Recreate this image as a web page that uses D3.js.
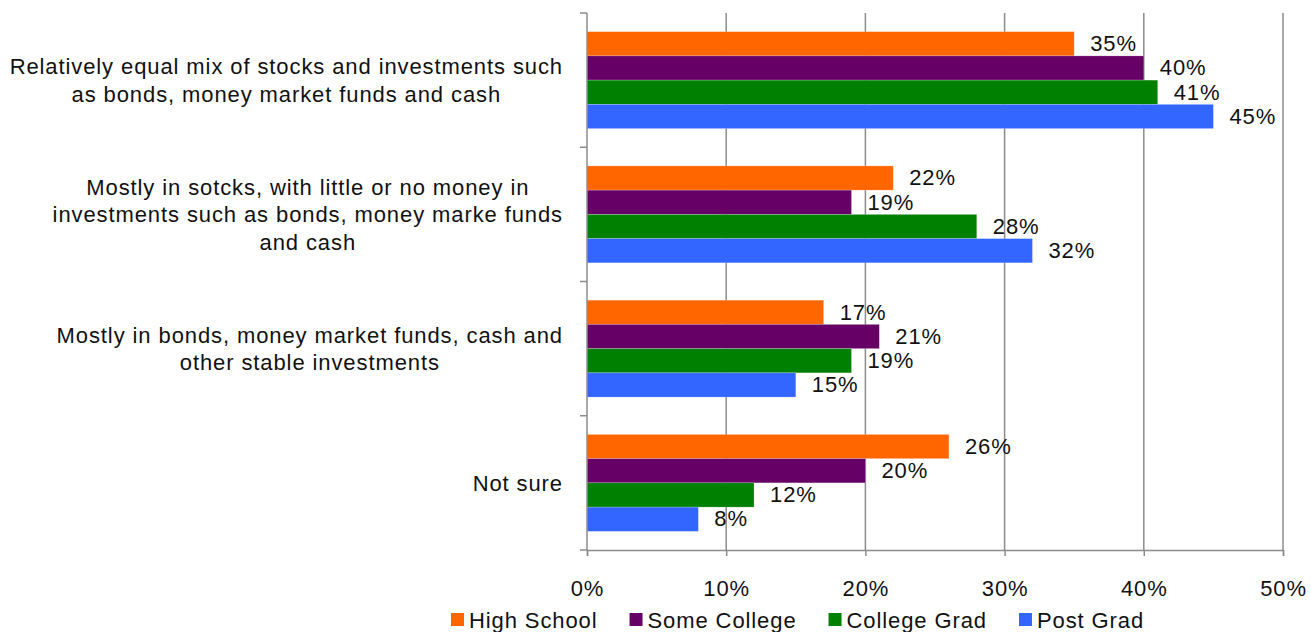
<!DOCTYPE html>
<html>
<head>
<meta charset="utf-8">
<script src="https://cdn.jsdelivr.net/npm/d3@7"></script>
<style>
  html, body { margin: 0; padding: 0; background: #fff; }
  svg { display: block; font-family: "Liberation Sans", Arial, sans-serif; letter-spacing: 0.9px; }
</style>
</head>
<body>
<svg id="chart" width="1311" height="632"></svg>
<script>
// Investment mix by education level (percent of respondents)
const categories = [
  ["Relatively equal mix of stocks and investments such", "as bonds, money market funds and cash"],
  ["Mostly in sotcks, with little or no money in", "investments such as bonds, money marke funds", "and cash"],
  ["Mostly in bonds, money market funds, cash and", "other stable investments"],
  ["Not sure"]
];
const seriesNames = ["High School", "Some College", "College Grad", "Post Grad"];
const highSchool   = [35, 22, 17, 26];
const someCollege  = [40, 19, 21, 20];
const collegeGrad  = [41, 28, 19, 12];
const postGrad     = [45, 32, 15, 8];
const xTicks = [0, 10, 20, 30, 40, 50];

const seriesValues = [highSchool, someCollege, collegeGrad, postGrad];
const colors = ["#FF6600", "#660066", "#008000", "#3366FF"];

const svg = d3.select("#chart");
const plot = { left: 587, right: 1283, top: 13, bottom: 550 };
const fontSize = 22;
const axisColor = "#8c8c8c";

const x = d3.scaleLinear().domain([0, 50]).range([plot.left, plot.right]);
const y = d3.scaleBand().domain(d3.range(categories.length)).range([plot.top, plot.bottom]);
const inner = d3.scaleBand().domain(d3.range(seriesNames.length))
  .range([0, y.bandwidth()]).paddingOuter(0.77).paddingInner(0);

// vertical gridlines
svg.append("g").selectAll("line")
  .data(xTicks.slice(1))
  .join("line")
  .attr("x1", d => x(d)).attr("x2", d => x(d))
  .attr("y1", plot.top).attr("y2", plot.bottom)
  .attr("stroke", axisColor).attr("stroke-width", 1.5);

// bars
const groups = svg.append("g").selectAll("g")
  .data(categories.map((c, i) => i))
  .join("g")
  .attr("transform", i => `translate(0,${y(i)})`);

groups.selectAll("rect")
  .data(i => seriesValues.map((vals, s) => ({ s, v: vals[i] })))
  .join("rect")
  .attr("x", x(0))
  .attr("y", d => inner(d.s))
  .attr("width", d => x(d.v) - x(0))
  .attr("height", inner.bandwidth())
  .attr("fill", d => colors[d.s])
  .attr("stroke", "rgba(255,255,255,0.35)")
  .attr("stroke-width", 0.6);

// value labels
groups.selectAll("text")
  .data(i => seriesValues.map((vals, s) => ({ s, v: vals[i] })))
  .join("text")
  .attr("x", d => x(d.v) + 16)
  .attr("y", d => inner(d.s) + inner.bandwidth() / 2)
  .attr("dy", "0.33em")
  .attr("font-size", fontSize)
  .attr("fill", "#111")
  .text(d => d.v + "%");

// y axis line with band ticks
const yAxis = svg.append("g").attr("stroke", axisColor).attr("stroke-width", 1.5);
yAxis.append("line").attr("x1", plot.left).attr("x2", plot.left).attr("y1", plot.top).attr("y2", plot.bottom);
yAxis.selectAll("line.tk")
  .data(d3.range(categories.length + 1))
  .join("line").attr("class", "tk")
  .attr("x1", plot.left - 7).attr("x2", plot.left)
  .attr("y1", i => plot.top + i * y.step()).attr("y2", i => plot.top + i * y.step());

// x axis
const xAxis = d3.axisBottom(x).tickValues(xTicks).tickSize(6).tickPadding(24).tickFormat(d => d + "%");
const gx = svg.append("g").attr("transform", `translate(0,${plot.bottom})`).call(xAxis);
gx.select(".domain").attr("stroke", axisColor).attr("stroke-width", 1.5);
gx.selectAll(".tick line").attr("stroke", axisColor).attr("stroke-width", 1.5);
gx.selectAll(".tick text").attr("font-size", fontSize).attr("fill", "#111")
  .attr("font-family", "Liberation Sans, Arial, sans-serif");

// category labels: each block sits flush right against the axis, its lines centred within the block
const lineH = 27.5;
const labelRight = 563;
svg.append("g").selectAll("text")
  .data(categories.map((lines, i) => ({ lines, i })))
  .join("text")
  .attr("text-anchor", "middle")
  .attr("font-size", fontSize)
  .attr("fill", "#111")
  .each(function(d) {
    const cy = y(d.i) + y.bandwidth() / 2;
    const n = d.lines.length;
    const spans = d3.select(this).selectAll("tspan")
      .data(d.lines)
      .join("tspan")
      .attr("y", (l, k) => cy + (k - (n - 1) / 2) * lineH)
      .attr("dy", "0.36em")
      .text(l => l);
    const maxW = d3.max(spans.nodes(), nd => nd.getComputedTextLength());
    spans.attr("x", labelRight - maxW / 2);
  });

// legend
const legend = svg.append("g").attr("transform", "translate(451,0)");
let lx = 0;
seriesNames.forEach((name, s) => {
  const item = legend.append("g").attr("transform", `translate(${lx},0)`);
  item.append("rect").attr("x", 0).attr("y", 613).attr("width", 13).attr("height", 13).attr("fill", colors[s]);
  const t = item.append("text").attr("x", 18).attr("y", 628).attr("font-size", fontSize).attr("fill", "#111").text(name);
  lx += 18 + t.node().getComputedTextLength() + 32;
});
</script>
</body>
</html>
